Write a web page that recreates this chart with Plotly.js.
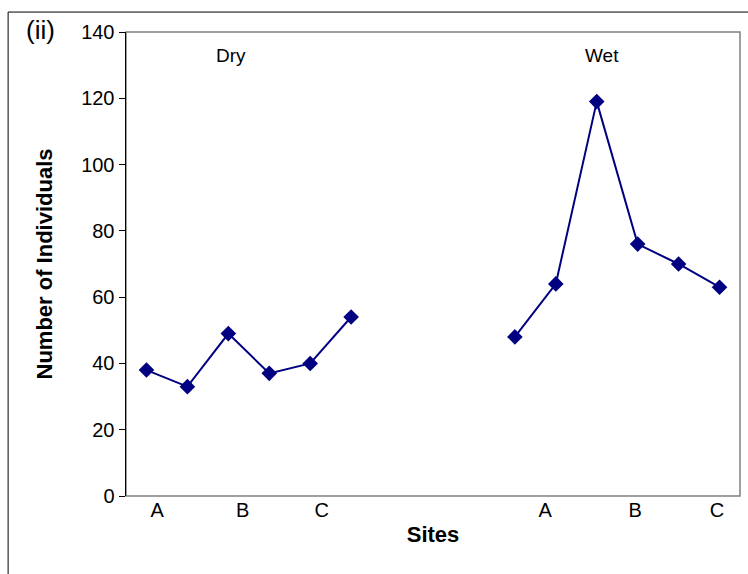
<!DOCTYPE html>
<html>
<head>
<meta charset="utf-8">
<script src="https://cdn.plot.ly/plotly-3.0.1.min.js"></script>
<style>html,body{margin:0;padding:0;background:#fff;}#chart{width:748px;height:574px;}</style>
</head>
<body>
<div id="chart"></div>
<script>
// Data
var dryX = [0, 1, 2, 3, 4, 5];
var dryValues = [38, 33, 49, 37, 40, 54];
var wetX = [9, 10, 11, 12, 13, 14];
var wetValues = [48, 64, 119, 76, 70, 63];
var tickPositions = [0.26, 2.35, 4.28, 9.74, 11.94, 13.94];
var tickLabels = ["A", "B", "C", "A", "B", "C"];

var color = "#000080";
var marker = {symbol: "diamond", size: 12, color: color};
var traces = [
  {x: dryX, y: dryValues, mode: "lines+markers", line: {color: color, width: 2}, marker: marker, showlegend: false, name: "Dry"},
  {x: wetX, y: wetValues, mode: "lines+markers", line: {color: color, width: 2}, marker: marker, showlegend: false, name: "Wet"}
];

var layout = {
  width: 748, height: 574,
  margin: {l: 126, r: 8, t: 32, b: 78, pad: 0},
  paper_bgcolor: "#fff", plot_bgcolor: "#fff",
  font: {family: "Arial, 'Liberation Sans', sans-serif", size: 20, color: "#000"},
  xaxis: {
    range: [-0.5, 14.5], showgrid: false, zeroline: false,
    tickmode: "array", tickvals: tickPositions, ticktext: tickLabels,
    ticks: "", showline: false,
    tickfont: {size: 20},
    title: {text: "<b>Sites</b>", font: {size: 22}, standoff: 6}
  },
  yaxis: {
    range: [0, 140], dtick: 20, showgrid: false, zeroline: false,
    ticks: "outside", ticklen: 6, tickcolor: "#000", tickwidth: 1,
    showline: true, linecolor: "#000", linewidth: 1.5,
    tickfont: {size: 20},
    title: {text: "<b>Number of Individuals</b>", font: {size: 22}, standoff: 22}
  },
  shapes: [
    {type: "rect", xref: "paper", yref: "paper", x0: 0, x1: 1, y0: 0, y1: 1, line: {color: "#808080", width: 1.5}, layer: "below"},
    {type: "rect", xref: "paper", yref: "paper", x0: -0.192, x1: 1.05, y0: -0.25, y1: 1.043, line: {color: "#000", width: 1}, layer: "below"}
  ],
  annotations: [
    {text: "(ii)", xref: "paper", yref: "paper", x: (40 - 126) / 614, y: (496.5 - 30) / 464.5, showarrow: false, font: {size: 26}, xanchor: "center", yanchor: "middle"},
    {text: "Dry", xref: "paper", yref: "paper", x: (231 - 126) / 614, y: (496.5 - 56) / 464.5, showarrow: false, font: {size: 19}, xanchor: "center", yanchor: "middle"},
    {text: "Wet", xref: "paper", yref: "paper", x: (602 - 126) / 614, y: (496.5 - 56) / 464.5, showarrow: false, font: {size: 19}, xanchor: "center", yanchor: "middle"}
  ]
};

Plotly.newPlot("chart", traces, layout, {displayModeBar: false, staticPlot: true});
</script>
</body>
</html>
